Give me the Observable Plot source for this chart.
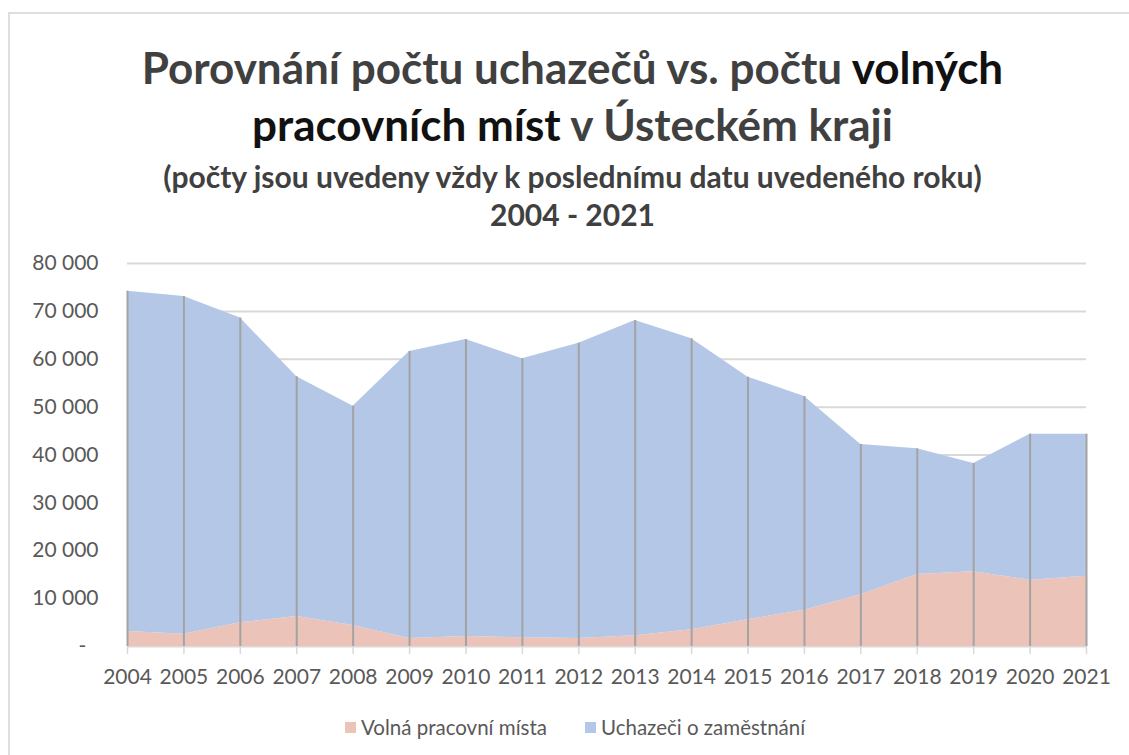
<!DOCTYPE html>
<html>
<head>
<meta charset="utf-8">
<script src="https://cdn.jsdelivr.net/npm/d3@7"></script>
<script src="https://cdn.jsdelivr.net/npm/@observablehq/plot@0.6"></script>
<style>
  html, body { margin: 0; padding: 0; background: #fff; overflow: hidden; }
  body { width: 1129px; height: 755px; position: relative; font-family: Lato, "Open Sans", sans-serif; }
  .frame { position: absolute; left: 8px; top: 12px; width: 1200px; height: 800px; border: 2px solid #dedede; box-sizing: border-box; }
  .t { position: absolute; left: 0; width: 1145px; text-align: center; font-weight: 700; white-space: nowrap; }
  #title { top: 39px; font-size: 44px; line-height: 57px; color: #404040; }
  #title .k { color: #111; }
  #sub { top: 157px; font-size: 30px; line-height: 38px; color: #404040; }
  #years { top: 195px; font-size: 30px; line-height: 38px; color: #404040; }
  #chart { position: absolute; left: 0; top: 230px; }
  #legend { position: absolute; top: 715px; left: 345px; font-size: 20.5px; color: #595959; display: flex; align-items: center; white-space: nowrap; }
  #legend .sw { display: inline-block; width: 11px; height: 11px; margin-right: 5px; }
  #legend .item { display: flex; align-items: center; margin-right: 38px; }
</style>
</head>
<body>
<div class="frame"></div>
<div class="t" id="title">Porovnání počtu uchazečů vs. počtu <span class="k">volných</span><br><span class="k">pracovních míst</span> v Ústeckém kraji</div>
<div class="t" id="sub">(počty jsou uvedeny vždy k poslednímu datu uvedeného roku)</div>
<div class="t" id="years">2004 - 2021</div>
<div id="chart"></div>
<div id="legend"></div>
<script>
const years = [2004, 2005, 2006, 2007, 2008, 2009, 2010, 2011, 2012, 2013, 2014, 2015, 2016, 2017, 2018, 2019, 2020, 2021];
const volnaMista = [3130, 2580, 4940, 6270, 4390, 1670, 2090, 1810, 1670, 2230, 3480, 5570, 7590, 10790, 15040, 15600, 13860, 14690];
const uchazeci = [71070, 70520, 63660, 50060, 45810, 59950, 62040, 58280, 61690, 65870, 60790, 50690, 44630, 31410, 26250, 22630, 30490, 29660];
const yTicks = [0, 10000, 20000, 30000, 40000, 50000, 60000, 70000, 80000];
const seriesNames = ["Volná pracovní místa", "Uchazeči o zaměstnání"];
const seriesColors = ["#ebc3b9", "#b4c7e7"];

const rows = years.map((year, i) => ({
  year,
  volna: volnaMista[i],
  total: volnaMista[i] + uchazeci[i]
}));

const fmt = d => d === 0 ? "-\u2007" : d3.format(",")(d).replace(/,/g, " ");

const chart = Plot.plot({
  width: 1129,
  height: 476,
  marginLeft: 127,
  marginRight: 43,
  marginTop: 33,
  marginBottom: 60,
  style: { fontFamily: "Lato, 'Open Sans', sans-serif", fontSize: "21px", color: "#595959", background: "transparent" },
  x: { domain: [years[0], years[years.length - 1]], label: null },
  y: { domain: [0, 80000], label: null },
  marks: [
    Plot.gridY(yTicks, { stroke: "#d9d9d9", strokeOpacity: 1, strokeWidth: 2 }),
    Plot.areaY(rows, { x: "year", y1: 0, y2: "volna", fill: seriesColors[0] }),
    Plot.areaY(rows, { x: "year", y1: "volna", y2: "total", fill: seriesColors[1] }),
    Plot.ruleX(rows, { x: "year", y1: 0, y2: "total", stroke: "#a3a3a3", strokeWidth: 2 }),
    Plot.axisY({ ticks: yTicks, tickSize: 0, tickPadding: 29, tickFormat: fmt, fill: "#595959" }),
    Plot.axisX({ ticks: years, tickSize: 8, tickPadding: 15, tickFormat: d => String(d), stroke: "#d9d9d9", fill: "#595959", strokeWidth: 1.5 })
  ]
});
document.getElementById("chart").appendChild(chart);

const legend = document.getElementById("legend");
seriesNames.forEach((name, i) => {
  const item = document.createElement("span");
  item.className = "item";
  const sw = document.createElement("span");
  sw.className = "sw";
  sw.style.background = seriesColors[i];
  item.appendChild(sw);
  item.appendChild(document.createTextNode(name));
  legend.appendChild(item);
});
</script>
</body>
</html>
